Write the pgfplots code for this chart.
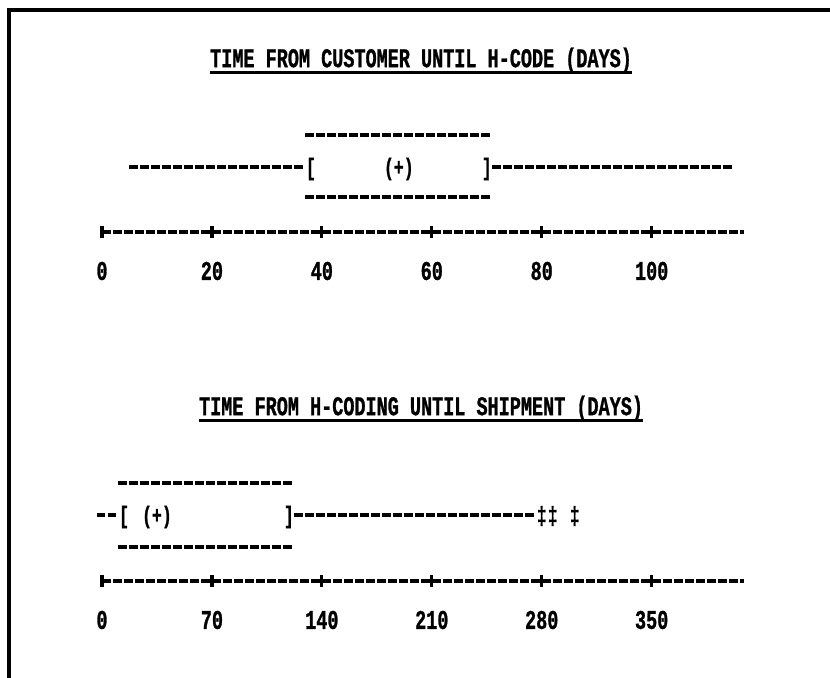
\documentclass[border=0pt]{standalone}
\usepackage{fontspec}
\usepackage{pgfplots}
\pgfplotsset{compat=1.18}
\newfontfamily\dm{Liberation Mono}[FakeStretch=0.685, BoldFeatures={FakeBold=1}]
\newcommand\dmfont{\dm\bfseries\fontsize{13.5}{15}\selectfont}
\newcommand\dmbox{\dm\bfseries\fontsize{12}{14}\selectfont}
\newcommand\ul[1]{\leavevmode\setbox0\hbox{#1}\rlap{\rule[-3.6pt]{\wd0}{1.5pt}}\box0}
\tikzset{dmline/.style={line width=1.6pt, dash pattern=on 4.3pt off 1.2pt, black}}
\pgfplotsset{
  panel/.style={
    scale only axis, width=321pt, height=50pt,
    xmin=0, ymin=0, ymax=100, enlargelimits=false, clip=false,
    axis y line=none, axis x line*=bottom,
    x axis line style={-, dmline},
    tick style={line width=1.6pt, black, solid},
    major tick length=6pt, tick align=center,
    /pgf/number format/assume math mode=true,
    xticklabel style={font=\dmfont, anchor=center, yshift=-16.5pt},
    title style={font=\dmfont, anchor=center},
    anchor=south west,
  },
  txt/.style={only marks, mark=text, text mark={\dmbox #1}, black,
    text mark as node=true, text mark style={anchor=center, inner sep=0pt}},
}
\begin{document}
\begin{tikzpicture}
\useasboundingbox (0,0) rectangle (415pt,339pt);
\draw[line width=2pt] (415pt,334pt) -- (4.5pt,334pt) -- (4.5pt,0pt);

% ---- top panel ----
\begin{axis}[panel, at={(51pt,223pt)}, xmax=116.8,
  xtick={0,20,40,60,80,100},
  title={\ul{TIME FROM CUSTOMER UNTIL H-CODE (DAYS)}},
  title style={at={(axis description cs:0.497,1.59)}}]
\addplot[dmline] coordinates {(37,97) (71,97)};
\addplot[dmline] coordinates {(37,35) (71,35)};
\addplot[dmline] coordinates {(5,65) (37,65)};
\addplot[dmline] coordinates {(71,65) (115,65)};
\addplot[txt={[}] coordinates {(38,63)};
\addplot[txt={(+)}] coordinates {(54,63)};
\addplot[txt={]}] coordinates {(70,63)};
\end{axis}

% ---- bottom panel ----
\begin{axis}[panel, at={(51pt,48.5pt)}, xmax=408.8,
  xtick={0,70,140,210,280,350},
  title={\ul{TIME FROM H-CODING UNTIL SHIPMENT (DAYS)}},
  title style={at={(axis description cs:0.497,1.60)}}]
\addplot[dmline] coordinates {(10.5,98) (122.5,98)};
\addplot[dmline] coordinates {(10.5,34) (122.5,34)};
\addplot[dmline] coordinates {(-3.5,66) (10.5,66)};
\addplot[dmline] coordinates {(122.5,66) (276.5,66)};
\addplot[txt={[}] coordinates {(14,64)};
\addplot[txt={(+)}] coordinates {(35,64)};
\addplot[txt={]}] coordinates {(119,64)};
\addplot[txt={‡}] coordinates {(280,65) (287,65) (301,65)};
\end{axis}
\end{tikzpicture}
\end{document}
